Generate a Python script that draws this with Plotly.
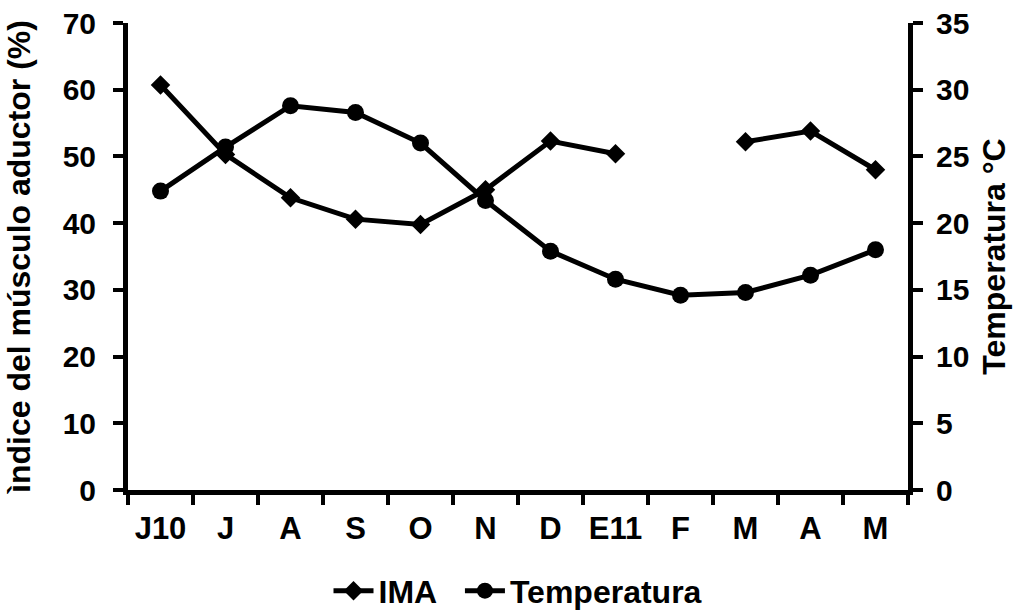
import plotly.graph_objects as go

months = ["J10", "J", "A", "S", "O", "N", "D", "E11", "F", "M", "A", "M"]
ima = [60.7, 50.3, 43.8, 40.6, 39.8, 45.0, 52.3, 50.4, None, 52.2, 53.8, 48.0]
temperatura = [22.4, 25.7, 28.8, 28.3, 26.0, 21.7, 17.9, 15.8, 14.6, 14.8, 16.1, 18.0]
series_names = ["IMA", "Temperatura"]

# make repeated month labels unique category keys (zero-width space suffix)
seen = {}
cats = []
for m in months:
    n = seen.get(m, 0)
    cats.append(m + "\u200b" * n)
    seen[m] = n + 1

FAM = "Arial, Liberation Sans, sans-serif"
FONT = dict(family=FAM, size=30, color="black", weight="bold")
XFONT = dict(family=FAM, size=31, color="black", weight="bold")
LFONT = dict(family=FAM, size=32, color="black", weight="bold")
TFONT = dict(family=FAM, size=32, color="black", weight="bold")

fig = go.Figure()
fig.add_trace(go.Scatter(
    x=cats, y=ima, name=series_names[0] + "\u00a0\u00a0", mode="lines+markers",
    line=dict(color="black", width=5),
    marker=dict(symbol="diamond", size=15, color="black"),
    connectgaps=False,
))
fig.add_trace(go.Scatter(
    x=cats, y=temperatura, name=series_names[1], mode="lines+markers", yaxis="y2",
    line=dict(color="black", width=5),
    marker=dict(symbol="circle", size=17, color="black"),
))

fig.update_layout(
    width=1018, height=610,
    margin=dict(l=128, r=110, t=23, b=120, autoexpand=False),
    paper_bgcolor="white", plot_bgcolor="white",
    font=FONT,
    xaxis=dict(
        type="category", categoryorder="array", categoryarray=cats,
        range=[-0.5, len(cats) - 0.5], automargin=False, tickangle=0,
        tickson="boundaries", ticks="outside", ticklen=10, tickwidth=4, tickcolor="black",
        showline=True, linewidth=5, linecolor="black", showgrid=False, zeroline=False,
        tickfont=XFONT, ticklabelstandoff=7,
    ),
    yaxis=dict(
        range=[0, 70], dtick=10, tick0=0, automargin=False,
        title=dict(text="ìndice del músculo aductor (%)", font=TFONT, standoff=24),
        ticks="outside", ticklen=10, tickwidth=4, tickcolor="black",
        showline=True, linewidth=5, linecolor="black", showgrid=False, zeroline=False,
        tickfont=FONT, ticklabelstandoff=11,
    ),
    yaxis2=dict(
        range=[0, 35], dtick=5, tick0=0, overlaying="y", side="right", automargin=False,
        title=dict(text="Temperatura °C", font=TFONT, standoff=16),
        ticks="outside", ticklen=10, tickwidth=4, tickcolor="black",
        showline=True, linewidth=5, linecolor="black", showgrid=False, zeroline=False,
        tickfont=FONT, ticklabelstandoff=7,
    ),
    legend=dict(
        orientation="h", x=0.5, xanchor="center", y=-0.216, yanchor="middle",
        font=LFONT, itemwidth=40, traceorder="normal",
    ),
    showlegend=True,
)

fig.write_html("out.html", config={"displayModeBar": False},
               post_script="document.body.style.margin='0px';")
